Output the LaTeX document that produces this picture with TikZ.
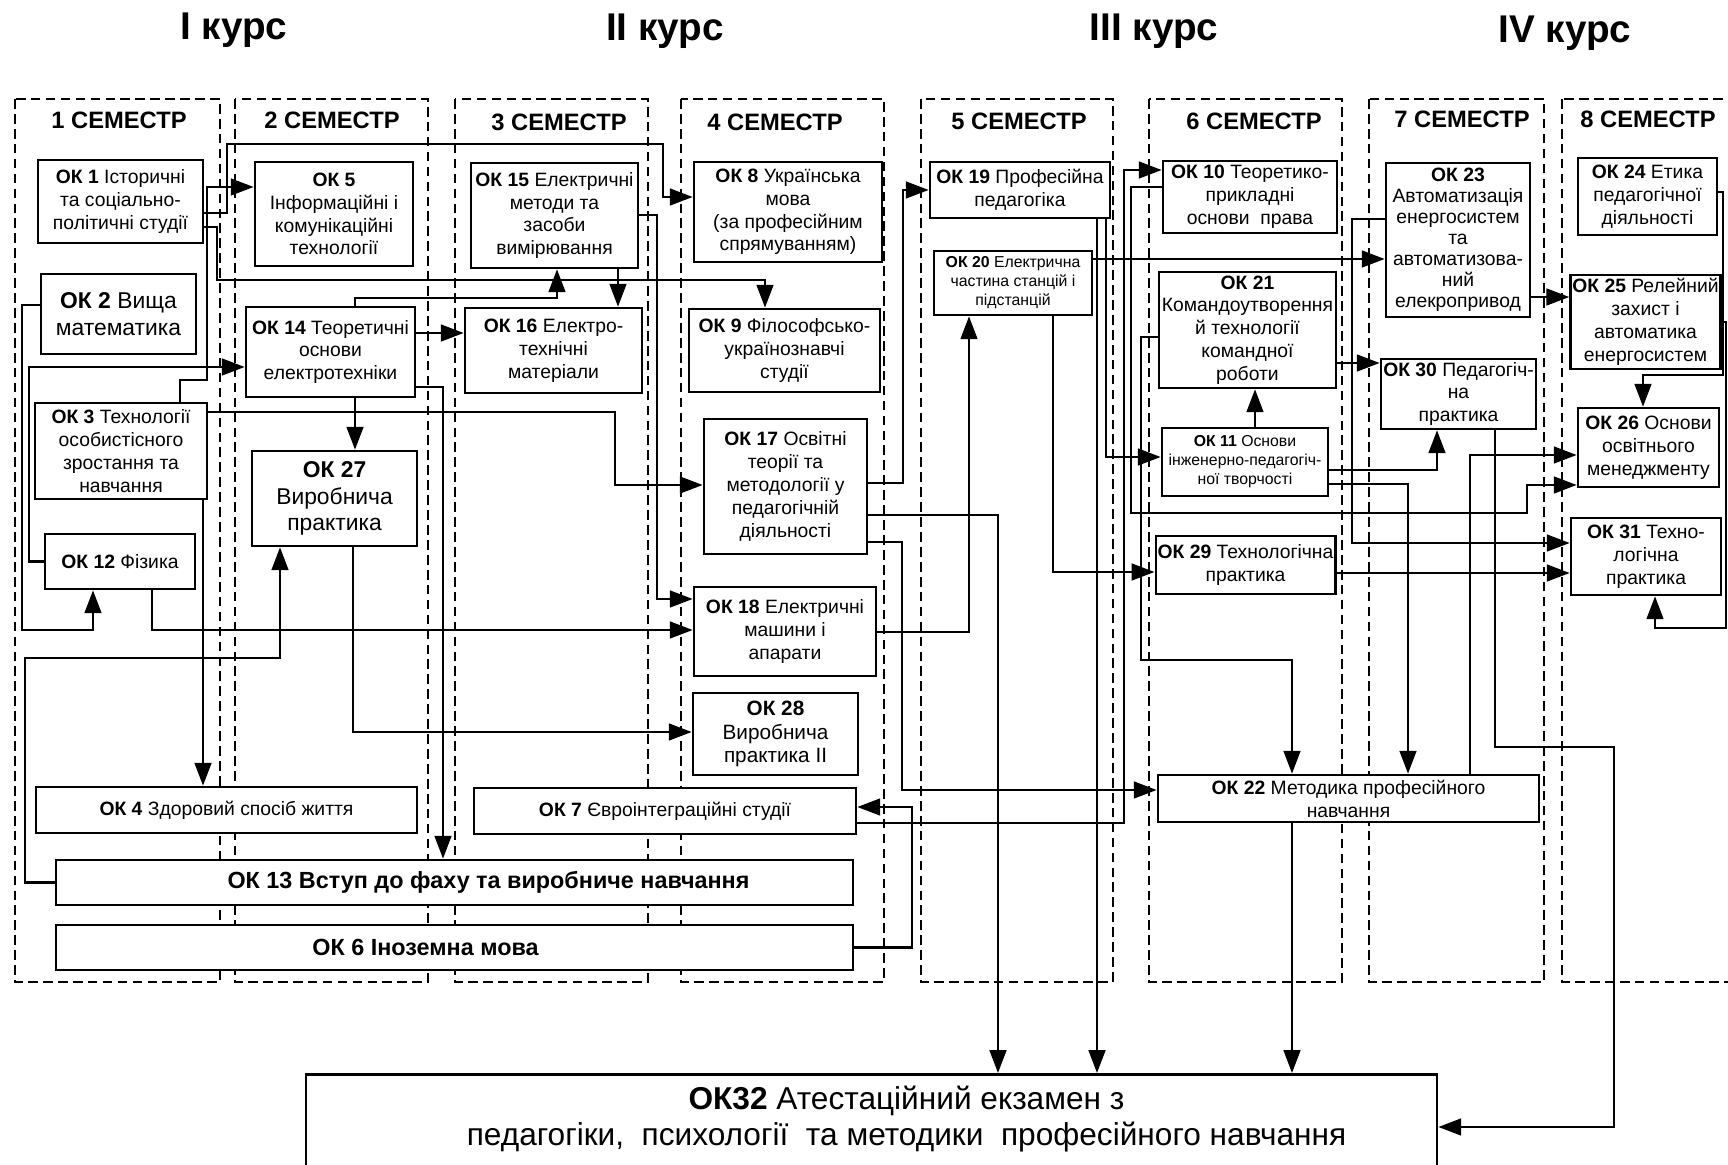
\documentclass[tikz,border=0pt]{standalone}
\usepackage{fontspec}
\setmainfont{Liberation Sans}
\usetikzlibrary{arrows.meta}

\tikzset{
	ok/.style={draw, line width=1.5pt, fill=white, inner sep=1pt, align=center, font=\fontsize{11}{13}\selectfont},
	okS/.style={ok, font=\fontsize{9}{10.8}\selectfont},
	okL/.style={ok, font=\fontsize{13}{15}\selectfont},
	okB/.style={font=\fontsize{13.3}{15}\selectfont\bfseries},
	sz/.style 2 args={minimum width=#1*0.02cm, minimum height=#2*0.02cm},
	sem/.style={dash pattern=on 5.5pt off 3pt, line width=0.6pt},
	semhead/.style={font=\fontsize{13.5}{15}\selectfont\bfseries},
	kurs/.style={font=\fontsize{22}{24}\selectfont\bfseries},
	arr/.style={line width=1.4pt, -{Triangle[length=13pt,width=9.5pt]}},
}

\begin{document}
\begin{tikzpicture}[x=0.02cm, y=-0.02cm]
	\useasboundingbox (0,0) rectangle (1728,1165);
	% courses
	\node[kurs] (k1) at (234,30) {І курс};
	\node[kurs] (k2) at (665,31) {ІІ курс};
	\node[kurs] (k3) at (1154,31) {ІІІ курс};
	\node[kurs] (k4) at (1565,33) {IV курс};
	% semesters
	\draw[sem] (15,99) rectangle (220,982);
	\draw[sem] (235,99) rectangle (428,982);
	\draw[sem] (455,99) rectangle (648,982);
	\draw[sem] (681,99) rectangle (884,982);
	\draw[sem] (921,99) rectangle (1113,982);
	\draw[sem] (1149,99) rectangle (1342,982);
	\draw[sem] (1369,99) rectangle (1544,982);
	\draw[sem] (1562,99) rectangle (1790,982);
	\node[semhead] (s1) at (119,120) {1 СЕМЕСТР};
	\node[semhead] (s2) at (332,120) {2 СЕМЕСТР};
	\node[semhead] (s3) at (559,122) {3 СЕМЕСТР};
	\node[semhead] (s4) at (775,122) {4 СЕМЕСТР};
	\node[semhead] (s5) at (1019,121) {5 СЕМЕСТР};
	\node[semhead] (s6) at (1254,121) {6 СЕМЕСТР};
	\node[semhead] (s7) at (1462,119) {7 СЕМЕСТР};
	\node[semhead] (s8) at (1648,119) {8 СЕМЕСТР};

	% 1 semester
	\node[ok, sz={165}{83}] (ok1) at (120.5,201.5) {\textbf{ОК 1} Історичні\\та соціально-\\політичні студії};
	\node[okL, sz={155}{80}] (ok2) at (118.5,314) {\textbf{ОК 2} Вища\\математика};
	\node[ok, sz={172}{96}] (ok3) at (121,451) {\textbf{ОК 3} Технології\\особистісного\\зростання та\\навчання};
	\node[ok, sz={150}{55}] (ok12) at (120,561.5) {\textbf{ОК 12} Фізика};
	% 2 semester
	\node[ok, sz={158}{104}] (ok5) at (334,214) {\textbf{ОК 5}\\Інформаційні і\\комунікаційні\\технології};
	\node[ok, sz={169}{90}] (ok14) at (330.5,352) {\textbf{ОК 14} Теоретичні\\основи\\електротехніки};
	\node[okL, sz={165}{95}] (ok27) at (334.5,498.5) {\textbf{ОК 27}\\Виробнича\\практика};
	% 3 semester
	\node[ok, sz={167}{105}] (ok15) at (554.5,215.5) {\textbf{ОК 15} Електричні\\методи та\\засоби\\вимірювання};
	\node[ok, sz={177}{85}] (ok16) at (553.5,350.5) {\textbf{ОК 16} Електро-\\технічні\\матеріали};
	% 4 semester
	\node[ok, sz={188}{100}] (ok8) at (788,212) {\textbf{ОК 8} Українська\\мова\\(за професійним\\спрямуванням)};
	\node[ok, sz={191}{83}] (ok9) at (784.5,350.5) {\textbf{ОК 9} Філософсько-\\українознавчі\\студії};
	\node[ok, sz={163}{135}] (ok17) at (785.5,486.5) {\textbf{ОК 17} Освітні\\теорії та\\методології у\\педагогічній\\діяльності};
	\node[ok, sz={182}{89}] (ok18) at (785,631.5) {\textbf{ОК 18} Електричні\\машини і\\апарати};
	\node[ok, sz={165}{82}, font=\fontsize{11.8}{13.5}\selectfont] (ok28) at (775.5,734) {\textbf{ОК 28}\\Виробнича\\практика ІІ};
	% long ones
	\node[ok, sz={381}{46}] (ok4) at (226.5,810) {\textbf{ОК 4} Здоровий спосіб життя};
	\node[ok, sz={382}{46}] (ok7) at (665,811) {\textbf{ОК 7} Євроінтеграційні студії};
	\node[ok, sz={797}{45}] (ok13) at (454.5,882.5) {};
	\node[okB] (ok13t) at ([xshift=0.68cm]ok13.center) {ОК 13 Вступ до фаху та виробниче навчання};
	\node[ok, sz={797}{45}] (ok6) at (454.5,947.5) {};
	\node[okB] (ok6t) at ([xshift=-0.58cm]ok6.center) {ОК 6 Іноземна мова};
	% 5 semester
	\node[ok, sz={180}{56}] (ok19) at (1020,190) {\textbf{ОК 19} Професійна\\педагогіка};
	\node[okS, sz={158}{64}] (ok20) at (1013,283) {\textbf{ОК 20} Електрична\\частина станцій і\\підстанцій};
	% 6 semester
	\node[ok, sz={174}{72}] (ok10) at (1250,197) {\textbf{ОК 10} Теоретико-\\прикладні\\основи~~права};
	\node[ok, sz={177}{116}] (ok21) at (1247.5,330) {\textbf{ОК 21}\\Командоутворення\\й технології\\командної\\роботи};
	\node[okS, sz={166}{68}] (ok11) at (1245,462) {\textbf{ОК 11} Основи\\інженерно-педагогіч-\\ної творчості};
	\node[ok, sz={175}{58}] (ok29) at (1245.5,565) {\textbf{ОК 29} Технологічна\\практика};
	\node[ok, sz={381}{47}] (ok22) at (1348.5,798.5) {\textbf{ОК 22} Методика професійного\\навчання};
	% 7 semester
	\node[ok, sz={144}{154}, font=\fontsize{11}{12}\selectfont] (ok23) at (1458,240) {\textbf{ОК 23}\\Автоматизація\\енергосистем\\та\\автоматизова-\\ний\\елекропривод};
	\node[ok, sz={155}{70}] (ok30) at (1458.5,394) {\textbf{ОК 30} Педагогіч-\\на\\практика};
	% 8 semester
	\node[ok, sz={139}{77}] (ok24) at (1647.5,196.5) {\textbf{ОК 24} Етика\\педагогічної\\діяльності};
	\node[ok, sz={147}{94}] (ok25) at (1645.5,322) {\textbf{ОК 25} Релейний\\захист і\\автоматика\\енергосистем};
	\node[ok, sz={141}{79}] (ok26) at (1648.5,447.5) {\textbf{ОК 26} Основи\\освітнього\\менеджменту};
	\node[ok, sz={150}{77}] (ok31) at (1646,556.5) {\textbf{ОК 31} Техно-\\логічна\\практика};
	% exam
	\node[ok, sz={1131}{96}, anchor=north] (ok32) at (871.5,1073) {};
	\node[align=center, font=\fontsize{18}{20.5}\selectfont] (ok32t) at ([xshift=0.7cm,yshift=0.06cm]ok32.center) {\textbf{ОК32} Атестаційний екзамен з\\педагогіки,~~психології~~та методики~~професійного навчання};

	% connectors
	\draw[arr] (ok1.east |- 0,213) -| (227,144) -| (663,197) -- (ok8.west |- 0,197);
	\draw[arr] (ok1.east |- 0,227) -| (217,280) -| (ok9.north -| 765,0);
	\draw[arr] (ok3.north -| 180,0) |- (207,380) |- (ok5.west |- 0,187);
	\draw[arr] (ok3.east |- 0,412) -| (615,485) -- (ok17.west |- 0,485);
	\draw[arr] (ok3.south -| 203,0) -- (ok4.north -| 203,0);
	\draw[arr] (ok2.west |- 0,305) -| (22,630) -| (ok12.south -| 93,0);
	\draw[arr] (ok12.west) -| (29,367) -- (ok14.west |- 0,367);
	\draw[arr] (ok12.south -| 152,0) |- (ok18.west |- 0,630);
	\draw[arr] (ok13.west) -| (25,658) -| (ok27.south -| 280,0);
	\draw[arr] (ok14.north -| 355,0) |- (557,298) -- (ok15.south -| 557,0);
	\draw[arr] (ok14.east |- 0,333) -- (ok16.west |- 0,333);
	\draw[arr] (ok14.east |- 0,387) -| (ok13.north -| 443,0);
	\draw[arr] (ok14.south -| 355,0) -- (ok27.north -| 355,0);
	\draw[arr] (ok27.south -| 353,0) |- (ok28.west |- 0,732);
	\draw[arr] (ok15.east |- 0,215) -| (657,599) -- (ok18.west |- 0,599);
	\draw[arr] (ok15.south -| 618,0) -- (ok16.north -| 618,0);
	\draw[arr] (ok17.east |- 0,483) -| (903,190) -- (ok19.west |- 0,190);
	\draw[arr] (ok17.east |- 0,515) -| (ok32.north -| 998,0);
	\draw[arr] (ok17.east |- 0,542) -| (902,790) -- (ok22.west |- 0,790);
	\draw[arr] (ok18.east |- 0,632) -| (ok20.south -| 969,0);
	\draw[arr] (ok6.east) -| (912,807) -- (ok7.east |- 0,807);
	\draw[arr] (ok7.east |- 0,823) -| (1124,170) -- (ok10.west |- 0,170);
	\draw[arr] (ok10.west |- 0,187) -| (1131,513) -| (1527,485) -- (ok26.west |- 0,485);
	\draw[arr] (ok19.south -| 1106,0) |- (ok11.west |- 0,457);
	\draw[arr] (ok19.south -| 1097,0) -- (ok32.north -| 1097,0);
	\draw[arr] (ok20.south -| 1053,0) |- (ok29.west |- 0,572);
	\draw[arr] (ok20.east |- 0,259) -- (ok23.west |- 0,259);
	\draw[arr] (ok21.west |- 0,337) -| (1141,660) -| (ok22.north -| 1292,0);
	\draw[arr] (ok21.east |- 0,363) -- (ok30.west |- 0,363);
	\draw[arr] (ok11.north -| 1255,0) -- (ok21.south -| 1255,0);
	\draw[arr] (ok11.east |- 0,470) -| (ok30.south -| 1437,0);
	\draw[arr] (ok11.east |- 0,484) -| (ok22.north -| 1408,0);
	\draw[arr] (ok29.east |- 0,573) -- (ok31.west |- 0,573);
	\draw[arr] (ok22.north -| 1470,0) |- (ok26.west |- 0,455);
	\draw[arr] (ok22.south -| 1292,0) -- (ok32.north -| 1292,0);
	\draw[arr] (ok23.west |- 0,219) -| (1352,543) -- (ok31.west |- 0,543);
	\draw[arr] (ok23.east |- 0,297) -- (ok25.west |- 0,297);
	\draw[arr] (ok30.south -| 1495,0) |- (1614,747) |- (ok32.east |- 0,1127);
	\draw[arr] (ok24.east |- 0,192) -| (1723,375) -| (ok26.north -| 1643,0);
	\draw[arr] (ok25.east) -| (1726,628) -| (ok31.south -| 1655,0);
\end{tikzpicture}
\end{document}
